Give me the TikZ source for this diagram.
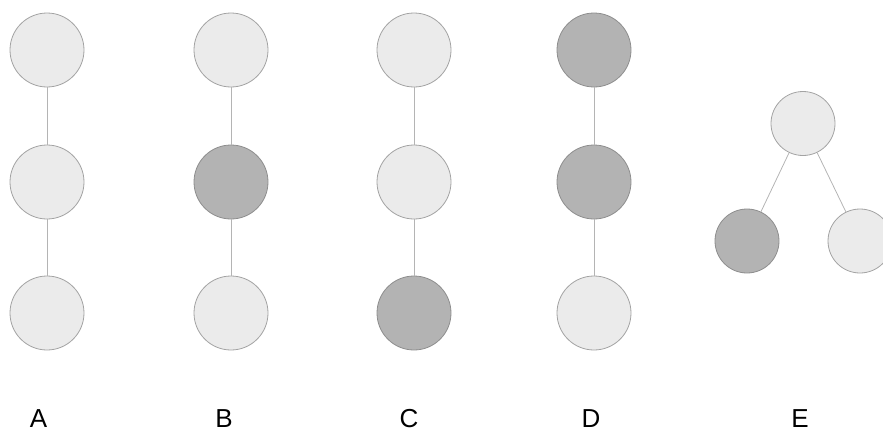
\documentclass[tikz,border=0pt]{standalone}
\usepackage{fontspec}
\setmainfont{Liberation Sans}
\definecolor{lightfill}{HTML}{EBEBEB}
\definecolor{darkfill}{HTML}{B3B3B3}
\definecolor{rim}{HTML}{A3A3A3}
\definecolor{darkrim}{HTML}{8E8E8E}
\definecolor{linkc}{HTML}{B4B4B4}
\begin{document}
\begin{tikzpicture}[x=1pt,y=-1pt,
  light/.style={circle,draw=rim,fill=lightfill,line width=0.8pt,inner sep=0pt,minimum size=74pt},
  dark/.style={circle,draw=darkrim,fill=darkfill,line width=0.8pt,inner sep=0pt,minimum size=74pt},
  lightsm/.style={light,minimum size=64pt},
  darksm/.style={dark,minimum size=64pt},
  link/.style={draw=linkc,line width=0.8pt},
  lab/.style={font=\fontsize{26}{30}\selectfont,inner sep=0pt,anchor=base}]
\useasboundingbox (0,0) rectangle (883,431);
\begin{scope}
\clip (0,0) rectangle (883,431);
% A
\node[light] (a1) at (47,50) {};
\node[light] (a2) at (47,182) {};
\node[light] (a3) at (47,313) {};
% B
\node[light] (b1) at (231,50) {};
\node[dark] (b2) at (231,182) {};
\node[light] (b3) at (231,313) {};
% C
\node[light] (c1) at (414,50) {};
\node[light] (c2) at (414,182) {};
\node[dark] (c3) at (414,313) {};
% D
\node[dark] (d1) at (594,50) {};
\node[dark] (d2) at (594,182) {};
\node[light] (d3) at (594,313) {};
% E
\node[lightsm] (e1) at (803,123.5) {};
\node[darksm] (e2) at (747,241) {};
\node[lightsm] (e3) at (860,241) {};
\path[link] (a1) -- (a2) (a2) -- (a3);
\path[link] (b1) -- (b2) (b2) -- (b3);
\path[link] (c1) -- (c2) (c2) -- (c3);
\path[link] (d1) -- (d2) (d2) -- (d3);
\path[link] (e1) -- (e2) (e1) -- (e3);
\end{scope}
\node[lab] (la) at (38.5,427) {A};
\node[lab] (lb) at (224,427) {B};
\node[lab] (lc) at (409,427) {C};
\node[lab] (ld) at (591,427) {D};
\node[lab] (le) at (800,427) {E};
\end{tikzpicture}
\end{document}
